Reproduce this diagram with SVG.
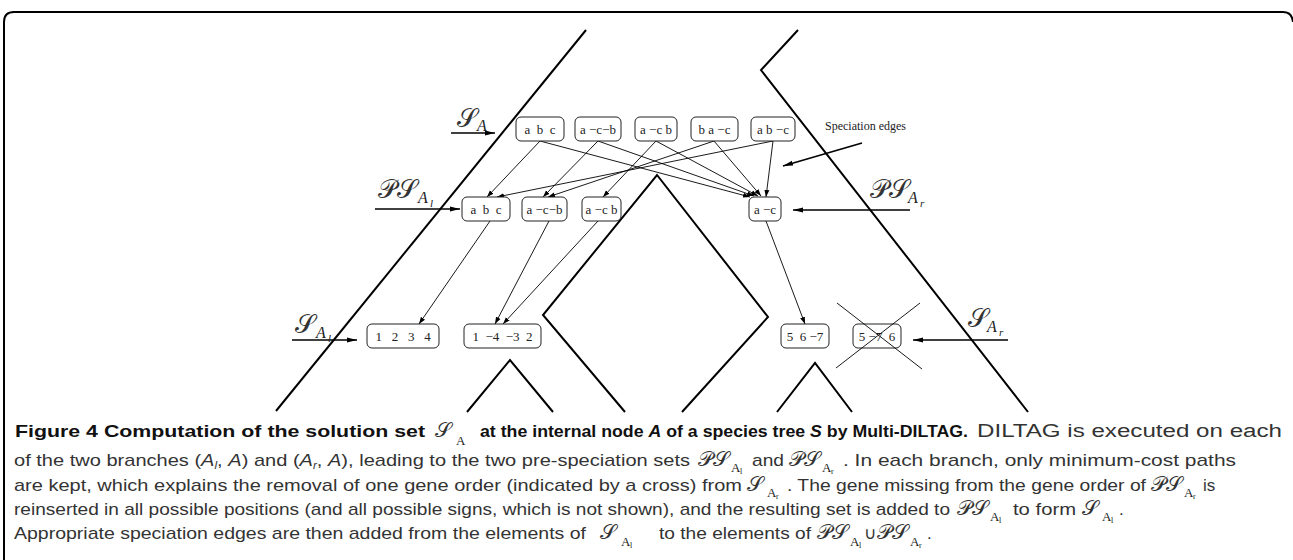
<svg xmlns="http://www.w3.org/2000/svg" width="1293" height="560" viewBox="0 0 1293 560">
<defs>
<marker id="ah" markerWidth="8" markerHeight="6" refX="7" refY="3" orient="auto" markerUnits="userSpaceOnUse">
<path d="M0,0.5 L7,3 L0,5.5 Z" fill="#000"/>
</marker>
<marker id="ahb" markerWidth="11" markerHeight="7" refX="10" refY="3.5" orient="auto" markerUnits="userSpaceOnUse">
<path d="M0,1 L10,3.5 L0,6 Z" fill="#000"/>
</marker>
<style>
.tree{stroke:#000;stroke-width:2;fill:none}
.box{fill:#fff;stroke:#222;stroke-width:1}
.edge{stroke:#000;stroke-width:0.9;fill:none;marker-end:url(#ah)}
.larr{stroke:#000;stroke-width:1.6;fill:none;marker-end:url(#ahb)}
.cross{stroke:#000;stroke-width:0.9}
.bt{font-family:"Liberation Serif",serif;font-size:13px;fill:#222;text-anchor:middle}
.cal{font-family:"DejaVu Serif","DejaVu Sans",serif;font-size:26px;fill:#333}
.sub{font-family:"Liberation Serif",serif;font-style:italic;font-size:16px;fill:#222}
.sub2{font-family:"Liberation Serif",serif;font-style:italic;font-size:11px;fill:#222}
.cap{font-family:"Liberation Sans",Arial,sans-serif;font-size:17px;fill:#333}
.capb{font-family:"Liberation Sans",Arial,sans-serif;font-size:17px;font-weight:bold;fill:#111}
.cs{font-family:"DejaVu Serif",serif;font-size:21px;fill:#333}
.csub{font-family:"Liberation Serif",serif;font-size:13px;fill:#222}
.csub2{font-family:"Liberation Serif",serif;font-size:8px;fill:#222}
</style>
</defs>
<path d="M4,560 V22 Q4,12 14,12 H1283 Q1292,12 1293,22" fill="none" stroke="#000" stroke-width="2"/>

<g id="species-tree">
<polyline class="tree" points="586,30 276,411"/>
<polyline class="tree" points="798,30 761,70 1028,412"/>
<polyline class="tree" points="625,412 543,315 657,175 768,317 682,412"/>
<polyline class="tree" points="467,412 510,360 553,412"/>
<polyline class="tree" points="777,412 815,363 852,412"/>
</g>

<g id="connectors">
<line class="edge" x1="540" y1="141" x2="487" y2="197"/>
<line class="edge" x1="540" y1="141" x2="750" y2="197"/>
<line class="edge" x1="598" y1="141" x2="543" y2="197"/>
<line class="edge" x1="598" y1="141" x2="754" y2="196"/>
<line class="edge" x1="656" y1="141" x2="603" y2="197"/>
<line class="edge" x1="656" y1="141" x2="758" y2="196"/>
<line class="edge" x1="714" y1="141" x2="548" y2="197"/>
<line class="edge" x1="714" y1="141" x2="761" y2="196"/>
<line class="edge" x1="773" y1="141" x2="497" y2="197"/>
<line class="edge" x1="773" y1="141" x2="766" y2="197"/>
<line class="edge" x1="490" y1="221" x2="419" y2="324"/>
<line class="edge" x1="549" y1="221" x2="495" y2="324"/>
<line class="edge" x1="598" y1="221" x2="503" y2="324"/>
<line class="edge" x1="766" y1="221" x2="805" y2="324"/>
<line class="larr" x1="451" y1="133" x2="495" y2="133"/>
<line class="larr" x1="375" y1="209" x2="460" y2="209"/>
<line class="larr" x1="910" y1="210" x2="793" y2="210"/>
<line class="larr" x1="292" y1="340" x2="357" y2="340"/>
<line class="larr" x1="1008" y1="340" x2="913" y2="340"/>
<line class="larr" x1="862" y1="143" x2="783" y2="166"/>
</g>

<g id="SA-1"><rect class="box" x="516" y="117" width="48" height="24" rx="5"/><text class="bt" x="540" y="134" xml:space="preserve">a  b  c</text></g>
<g id="SA-2"><rect class="box" x="575" y="117" width="46" height="24" rx="5"/><text class="bt" x="598" y="134">a −c−b</text></g>
<g id="SA-3"><rect class="box" x="635" y="117" width="42" height="24" rx="5"/><text class="bt" x="656" y="134">a −c b</text></g>
<g id="SA-4"><rect class="box" x="691" y="117" width="47" height="24" rx="5"/><text class="bt" x="714.5" y="134">b a −c</text></g>
<g id="SA-5"><rect class="box" x="751" y="117" width="44" height="24" rx="5"/><text class="bt" x="773" y="134">a b −c</text></g>

<g id="PSAl-1"><rect class="box" x="462" y="197" width="48" height="24" rx="5"/><text class="bt" x="486" y="214" xml:space="preserve">a  b  c</text></g>
<g id="PSAl-2"><rect class="box" x="522" y="197" width="45" height="24" rx="5"/><text class="bt" x="544.5" y="214">a −c−b</text></g>
<g id="PSAl-3"><rect class="box" x="582" y="197" width="39" height="24" rx="5"/><text class="bt" x="601.5" y="214">a −c b</text></g>
<g id="PSAr-1"><rect class="box" x="749" y="197" width="32" height="24" rx="5"/><text class="bt" x="765" y="214">a −c</text></g>

<g id="SAl-1"><rect class="box" x="367" y="324" width="72" height="24" rx="5"/><text class="bt" x="403" y="341" xml:space="preserve">1   2   3   4</text></g>
<g id="SAl-2"><rect class="box" x="464" y="324" width="77" height="24" rx="5"/><text class="bt" x="502.5" y="341" xml:space="preserve">1  −4  −3  2</text></g>
<g id="SAr-1"><rect class="box" x="781" y="324" width="48" height="24" rx="5"/><text class="bt" x="805" y="341" xml:space="preserve">5  6 −7</text></g>
<g id="SAr-2"><rect class="box" x="853" y="324" width="48" height="24" rx="5"/><text class="bt" x="877" y="341" xml:space="preserve">5 −7  6</text>
<line class="cross" x1="837" y1="303" x2="922" y2="369"/><line class="cross" x1="920" y1="303" x2="836" y2="368"/></g>

<g id="labels">
<text x="825" y="130" style="font-family:'Liberation Serif',serif;font-size:12px;fill:#222">Speciation edges</text>
<text class="cal" x="457" y="127">𝒮<tspan class="sub" x="477" y="131">A</tspan></text>
<text class="cal" x="378" y="198">𝒫𝒮<tspan class="sub" x="418" y="203">A</tspan><tspan class="sub2" x="430" y="207">l</tspan></text>
<text class="cal" x="870" y="198">𝒫𝒮<tspan class="sub" x="908" y="203">A</tspan><tspan class="sub2" x="920" y="207">r</tspan></text>
<text class="cal" x="295" y="333">𝒮<tspan class="sub" x="316" y="338">A</tspan><tspan class="sub2" x="328" y="342">l</tspan></text>
<text class="cal" x="968" y="327">𝒮<tspan class="sub" x="987" y="332">A</tspan><tspan class="sub2" x="999" y="336">r</tspan></text>
</g>

<g id="caption">
<text class="capb" x="15" y="437" textLength="410" lengthAdjust="spacingAndGlyphs">Figure 4 Computation of the solution set</text>
<text class="cs" x="435" y="437">𝒮<tspan class="csub" x="456" y="445">A</tspan></text>
<text class="capb" x="480" y="437" textLength="488" lengthAdjust="spacingAndGlyphs">at the internal node <tspan font-style="italic">A</tspan> of a species tree <tspan font-style="italic">S</tspan> by Multi-DILTAG.</text>
<text class="cap" x="977" y="437" textLength="305" lengthAdjust="spacingAndGlyphs" style="font-size:18px">DILTAG is executed on each</text>

<text class="cap" x="14" y="466" textLength="676" lengthAdjust="spacingAndGlyphs">of the two branches (<tspan font-style="italic">A</tspan><tspan font-style="italic" font-size="10" dy="3">l</tspan><tspan dy="-3">, </tspan><tspan font-style="italic">A</tspan>) and (<tspan font-style="italic">A</tspan><tspan font-style="italic" font-size="10" dy="3">r</tspan><tspan dy="-3">, </tspan><tspan font-style="italic">A</tspan>), leading to the two pre-speciation sets</text>
<text class="cs" x="698" y="466">𝒫𝒮<tspan class="csub" x="731" y="472">A</tspan><tspan class="csub2" x="740" y="474">l</tspan></text>
<text class="cap" x="752" y="466" textLength="32" lengthAdjust="spacingAndGlyphs">and</text>
<text class="cs" x="789" y="466">𝒫𝒮<tspan class="csub" x="822" y="472">A</tspan><tspan class="csub2" x="831" y="474">r</tspan></text>
<text class="cap" x="843" y="466" textLength="393" lengthAdjust="spacingAndGlyphs">. In each branch, only minimum-cost paths</text>

<text class="cap" x="14" y="491" textLength="728" lengthAdjust="spacingAndGlyphs">are kept, which explains the removal of one gene order (indicated by a cross) from</text>
<text class="cs" x="747" y="491">𝒮<tspan class="csub" x="767" y="497">A</tspan><tspan class="csub2" x="776" y="499">r</tspan></text>
<text class="cap" x="787" y="491" textLength="359" lengthAdjust="spacingAndGlyphs">. The gene missing from the gene order of</text>
<text class="cs" x="1151" y="491">𝒫𝒮<tspan class="csub" x="1184" y="497">A</tspan><tspan class="csub2" x="1193" y="499">r</tspan></text>
<text class="cap" x="1203" y="491">is</text>

<text class="cap" x="14" y="515" textLength="936" lengthAdjust="spacingAndGlyphs">reinserted in all possible positions (and all possible signs, which is not shown), and the resulting set is added to</text>
<text class="cs" x="957" y="515">𝒫𝒮<tspan class="csub" x="990" y="521">A</tspan><tspan class="csub2" x="999" y="523">l</tspan></text>
<text class="cap" x="1013" y="515" textLength="63" lengthAdjust="spacingAndGlyphs">to form</text>
<text class="cs" x="1082" y="515">𝒮<tspan class="csub" x="1102" y="521">A</tspan><tspan class="csub2" x="1111" y="523">l</tspan></text>
<text class="cap" x="1119" y="515">.</text>

<text class="cap" x="14" y="539" textLength="572" lengthAdjust="spacingAndGlyphs">Appropriate speciation edges are then added from the elements of</text>
<text class="cs" x="600" y="539">𝒮<tspan class="csub" x="621" y="546">A</tspan><tspan class="csub2" x="630" y="548">l</tspan></text>
<text class="cap" x="659" y="539" textLength="152" lengthAdjust="spacingAndGlyphs">to the elements of</text>
<text class="cs" x="817" y="539">𝒫𝒮<tspan class="csub" x="850" y="546">A</tspan><tspan class="csub2" x="859" y="548">l</tspan></text>
<text class="cap" x="864" y="539">∪</text>
<text class="cs" x="877" y="539">𝒫𝒮<tspan class="csub" x="910" y="546">A</tspan><tspan class="csub2" x="919" y="548">r</tspan></text>
<text class="cap" x="927" y="539">.</text>
</g>
</svg>
